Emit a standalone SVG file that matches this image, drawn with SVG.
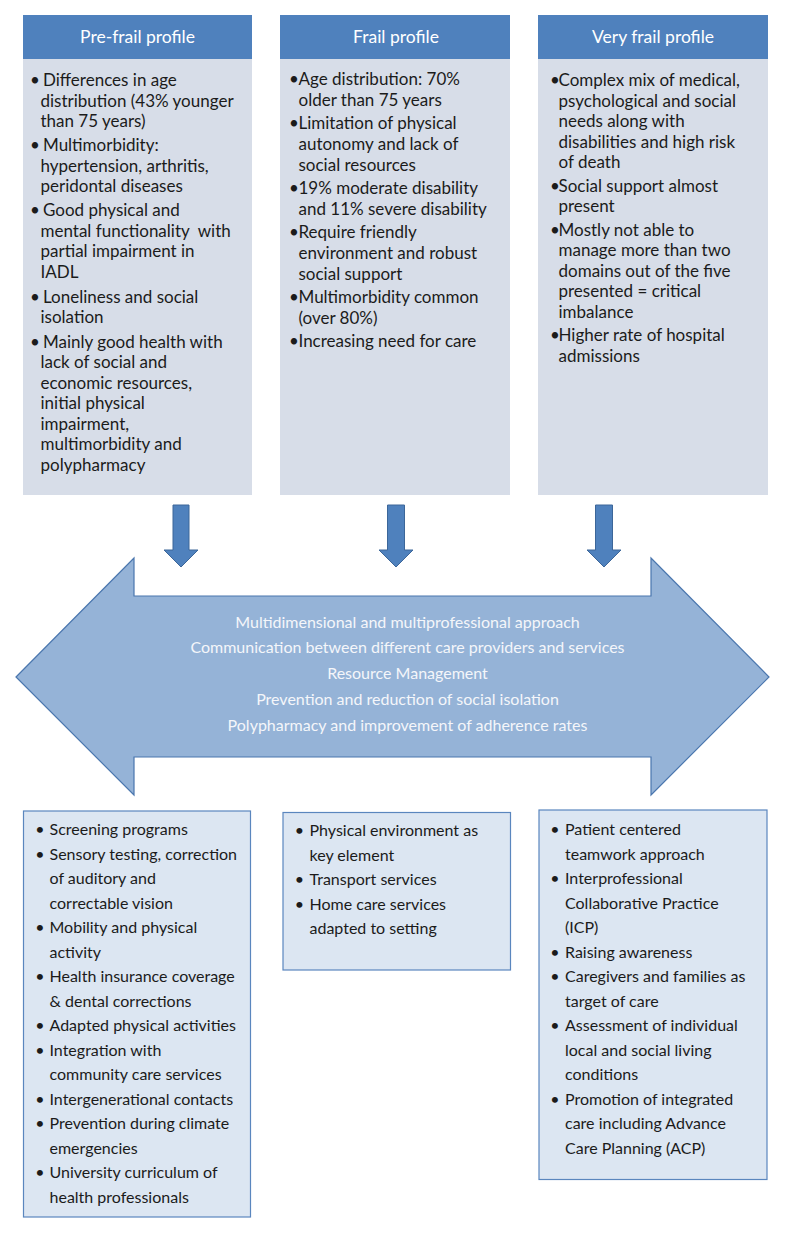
<svg xmlns="http://www.w3.org/2000/svg" width="786" height="1234" viewBox="0 0 786 1234">
<style>
.hdr{fill:#4F81BD}
.body{fill:#D7DDE8}
.ht{font-family:Lato,'Liberation Sans',sans-serif;font-size:17.5px;fill:#fff;text-anchor:middle}
.t{font-family:Lato,'Liberation Sans',sans-serif;font-size:17px;fill:#1b1b1b}
.s{font-size:16px}
.m{text-anchor:middle}
.box{fill:#DCE6F2;stroke:#5A86BE;stroke-width:1.2}
.arr{fill:#4F81BD;stroke:#3C6699;stroke-width:1}
.big{fill:#95B3D7;stroke:#4A76AE;stroke-width:1.2}
.at{font-family:Lato,'Liberation Sans',sans-serif;font-size:16px;fill:#F4F6FA;text-anchor:middle}
</style>
<rect width="786" height="1234" fill="#fff"/>

<g id="prefrail">
<rect class="body" x="23" y="59" width="229" height="436"/>
<rect class="hdr" x="23" y="15" width="229" height="44"/>
<text class="ht" x="137.5" y="43">Pre-frail profile</text>
<text class="t m" x="35" y="86">•</text><text class="t" x="43" y="86">Differences in age</text>
<text class="t" x="40.5" y="106.5">distribution (43% younger</text>
<text class="t" x="40.5" y="127">than 75 years)</text>
<text class="t m" x="35" y="151">•</text><text class="t" x="43" y="151">Multimorbidity:</text>
<text class="t" x="40.5" y="171.5">hypertension, arthritis,</text>
<text class="t" x="40.5" y="192">peridontal diseases</text>
<text class="t m" x="35" y="216">•</text><text class="t" x="43" y="216">Good physical and</text>
<text class="t" x="40.5" y="236.5" xml:space="preserve">mental functionality  with</text>
<text class="t" x="40.5" y="257">partial impairment in</text>
<text class="t" x="40.5" y="277.5">IADL</text>
<text class="t m" x="35" y="302.5">•</text><text class="t" x="43" y="302.5">Loneliness and social</text>
<text class="t" x="40.5" y="323">isolation</text>
<text class="t m" x="35" y="347.5">•</text><text class="t" x="43" y="347.5">Mainly good health with</text>
<text class="t" x="40.5" y="368">lack of social and</text>
<text class="t" x="40.5" y="388.5">economic resources,</text>
<text class="t" x="40.5" y="409">initial physical</text>
<text class="t" x="40.5" y="429.5">impairment,</text>
<text class="t" x="40.5" y="450">multimorbidity and</text>
<text class="t" x="40.5" y="470.5">polypharmacy</text>
</g>

<g id="frail">
<rect class="body" x="280" y="59" width="230" height="436"/>
<rect class="hdr" x="280" y="15" width="230" height="44"/>
<text class="ht" x="396" y="43">Frail profile</text>
<text class="t m" x="294" y="85">•</text><text class="t" x="298.5" y="85">Age distribution: 70%</text>
<text class="t" x="298.5" y="106">older than 75 years</text>
<text class="t m" x="294" y="129">•</text><text class="t" x="298.5" y="129">Limitation of physical</text>
<text class="t" x="298.5" y="150">autonomy and lack of</text>
<text class="t" x="298.5" y="171">social resources</text>
<text class="t m" x="294" y="194">•</text><text class="t" x="298.5" y="194">19% moderate disability</text>
<text class="t" x="298.5" y="215">and 11% severe disability</text>
<text class="t m" x="294" y="238">•</text><text class="t" x="298.5" y="238">Require friendly</text>
<text class="t" x="298.5" y="259">environment and robust</text>
<text class="t" x="298.5" y="280">social support</text>
<text class="t m" x="294" y="303">•</text><text class="t" x="298.5" y="303">Multimorbidity common</text>
<text class="t" x="298.5" y="324">(over 80%)</text>
<text class="t m" x="294" y="347">•</text><text class="t" x="298.5" y="347">Increasing need for care</text>
</g>

<g id="veryfrail">
<rect class="body" x="538" y="59" width="230" height="436"/>
<rect class="hdr" x="538" y="15" width="230" height="44"/>
<text class="ht" x="653" y="43">Very frail profile</text>
<text class="t m" x="555" y="86">•</text><text class="t" x="558.5" y="86">Complex mix of medical,</text>
<text class="t" x="558.5" y="106.5">psychological and social</text>
<text class="t" x="558.5" y="127">needs along with</text>
<text class="t" x="558.5" y="147.5">disabilities and high risk</text>
<text class="t" x="558.5" y="168">of death</text>
<text class="t m" x="555" y="191.5">•</text><text class="t" x="558.5" y="191.5">Social support almost</text>
<text class="t" x="558.5" y="212">present</text>
<text class="t m" x="555" y="235.5">•</text><text class="t" x="558.5" y="235.5">Mostly not able to</text>
<text class="t" x="558.5" y="256">manage more than two</text>
<text class="t" x="558.5" y="276.5">domains out of the five</text>
<text class="t" x="558.5" y="297">presented = critical</text>
<text class="t" x="558.5" y="317.5">imbalance</text>
<text class="t m" x="555" y="341">•</text><text class="t" x="558.5" y="341">Higher rate of hospital</text>
<text class="t" x="558.5" y="361.5">admissions</text>
</g>

<g id="connectors">
<polygon class="arr" points="173,505 189,505 189,550 198,550 181,567 164,550 173,550"/>
<polygon class="arr" points="387.5,505 404.5,505 404.5,550 413,550 396,567 379,550 387.5,550"/>
<polygon class="arr" points="595.5,505 612.5,505 612.5,550 621,550 604,567 587,550 595.5,550"/>
</g>

<g id="approach">
<polygon class="big" points="16,677 134,558 134,596 651,596 651,558 769,677 651,795 651,757 134,757 134,795"/>
<text class="at" x="407.5" y="627.5">Multidimensional and multiprofessional approach</text>
<text class="at" x="407.5" y="653.3">Communication between different care providers and services</text>
<text class="at" x="407.5" y="679">Resource Management</text>
<text class="at" x="407.5" y="704.8">Prevention and reduction of social isolation</text>
<text class="at" x="407.5" y="730.5">Polypharmacy and improvement of adherence rates</text>
</g>

<g id="actions-prefrail">
<rect class="box" x="23.5" y="811" width="227" height="406"/>
<text class="t s m" x="40" y="835">•</text><text class="t s" x="49.5" y="835">Screening programs</text>
<text class="t s m" x="40" y="859.5">•</text><text class="t s" x="49.5" y="859.5">Sensory testing, correction</text>
<text class="t s" x="49.5" y="884">of auditory and</text>
<text class="t s" x="49.5" y="908.5">correctable vision</text>
<text class="t s m" x="40" y="933">•</text><text class="t s" x="49.5" y="933">Mobility and physical</text>
<text class="t s" x="49.5" y="957.5">activity</text>
<text class="t s m" x="40" y="982">•</text><text class="t s" x="49.5" y="982">Health insurance coverage</text>
<text class="t s" x="49.5" y="1006.5">&amp; dental corrections</text>
<text class="t s m" x="40" y="1031">•</text><text class="t s" x="49.5" y="1031">Adapted physical activities</text>
<text class="t s m" x="40" y="1055.5">•</text><text class="t s" x="49.5" y="1055.5">Integration with</text>
<text class="t s" x="49.5" y="1080">community care services</text>
<text class="t s m" x="40" y="1104.5">•</text><text class="t s" x="49.5" y="1104.5">Intergenerational contacts</text>
<text class="t s m" x="40" y="1129">•</text><text class="t s" x="49.5" y="1129">Prevention during climate</text>
<text class="t s" x="49.5" y="1153.5">emergencies</text>
<text class="t s m" x="40" y="1178">•</text><text class="t s" x="49.5" y="1178">University curriculum of</text>
<text class="t s" x="49.5" y="1202.5">health professionals</text>
</g>

<g id="actions-frail">
<rect class="box" x="283" y="812.5" width="227.5" height="157.5"/>
<text class="t s m" x="299.5" y="836">•</text><text class="t s" x="309.5" y="836">Physical environment as</text>
<text class="t s" x="309.5" y="860.5">key element</text>
<text class="t s m" x="299.5" y="885">•</text><text class="t s" x="309.5" y="885">Transport services</text>
<text class="t s m" x="299.5" y="909.5">•</text><text class="t s" x="309.5" y="909.5">Home care services</text>
<text class="t s" x="309.5" y="934">adapted to setting</text>
</g>

<g id="actions-veryfrail">
<rect class="box" x="539" y="810" width="228" height="369.5"/>
<text class="t s m" x="555" y="835">•</text><text class="t s" x="565" y="835">Patient centered</text>
<text class="t s" x="565" y="859.5">teamwork approach</text>
<text class="t s m" x="555" y="884">•</text><text class="t s" x="565" y="884">Interprofessional</text>
<text class="t s" x="565" y="908.5">Collaborative Practice</text>
<text class="t s" x="565" y="933">(ICP)</text>
<text class="t s m" x="555" y="957.5">•</text><text class="t s" x="565" y="957.5">Raising awareness</text>
<text class="t s m" x="555" y="982">•</text><text class="t s" x="565" y="982">Caregivers and families as</text>
<text class="t s" x="565" y="1006.5">target of care</text>
<text class="t s m" x="555" y="1031">•</text><text class="t s" x="565" y="1031">Assessment of individual</text>
<text class="t s" x="565" y="1055.5">local and social living</text>
<text class="t s" x="565" y="1080">conditions</text>
<text class="t s m" x="555" y="1104.5">•</text><text class="t s" x="565" y="1104.5">Promotion of integrated</text>
<text class="t s" x="565" y="1129">care including Advance</text>
<text class="t s" x="565" y="1153.5">Care Planning (ACP)</text>
</g>
</svg>
